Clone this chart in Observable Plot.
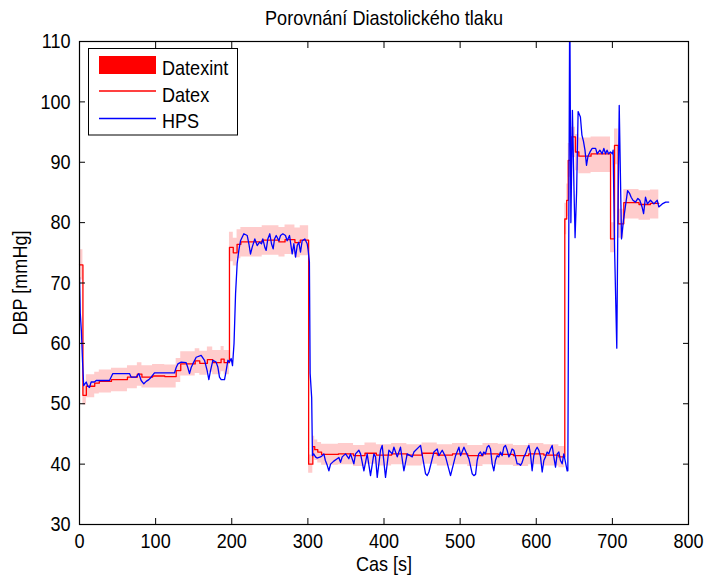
<!DOCTYPE html>
<html><head><meta charset="utf-8">
<script src="https://cdn.jsdelivr.net/npm/d3@7"></script>
<script src="https://cdn.jsdelivr.net/npm/@observablehq/plot@0.6"></script>
<style>
html,body{margin:0;padding:0;background:#fff;}
#chart{position:relative;width:708px;height:579px;}
</style></head><body><div id="chart"></div>
<script>
const title = "Porovnání Diastolického tlaku";
const xLabel = "Cas [s]";
const yLabel = "DBP [mmHg]";
const seriesNames = ["Datexint", "Datex", "HPS"];
const xTicks = [0, 100, 200, 300, 400, 500, 600, 700, 800];
const yTicks = [30, 40, 50, 60, 70, 80, 90, 100, 110];

// Datex (step line) and its interval band Datexint
const datexT = [0, 4.5, 9, 20, 26, 42, 63, 76, 82, 96, 112, 127, 133, 152, 158, 168, 175, 186, 190, 197, 202, 207, 212, 240, 262, 270, 283, 290, 301, 306.5, 309, 313, 318, 340, 360, 375, 390, 410, 430, 450, 470, 490, 510, 530, 550, 570, 590, 610, 629.7, 637.5, 640, 642, 646, 651.5, 656, 672, 697.6, 702.8, 707.6, 715, 735, 750, 761];
const datexV = [73, 51.4, 52.9, 53.4, 53.7, 54.0, 54.4, 54.9, 54.4, 54.6, 54.5, 55.5, 56.6, 57.1, 56.7, 57.3, 56.8, 57.4, 56.8, 75.9, 75.0, 76.4, 76.8, 77.1, 76.8, 77.2, 76.7, 77.1, 40.0, 42.9, 42.4, 42.0, 41.6, 41.7, 41.4, 41.8, 41.5, 41.7, 41.5, 41.8, 41.5, 41.7, 41.4, 41.7, 41.6, 41.4, 41.7, 41.5, 41.2, 80.6, 83.7, 90.3, 94.2, 91.7, 91.0, 91.4, 77.3, 92.8, 79.8, 83.3, 83.0, 83.2, 83.2];
const datexLo = [70.5, 49.8, 51.0, 51.6, 51.8, 52.0, 52.5, 52.9, 52.6, 52.6, 52.6, 53.5, 54.6, 55.0, 54.7, 55.2, 54.8, 55.3, 54.8, 73.5, 72.8, 74.0, 74.3, 74.6, 74.3, 74.7, 74.2, 74.5, 38.5, 41.0, 40.6, 40.2, 39.8, 39.9, 39.6, 40.0, 39.7, 39.9, 39.7, 40.0, 39.7, 39.9, 39.6, 39.9, 39.8, 39.6, 39.9, 39.7, 39.4, 78.0, 81.0, 87.5, 90.8, 88.6, 88.1, 88.3, 75.0, 89.6, 77.4, 80.6, 80.4, 80.6, 80.6];
const datexHi = [75.5, 53.2, 54.8, 55.2, 55.6, 55.9, 56.3, 56.8, 56.3, 56.5, 56.4, 57.5, 58.6, 59.1, 58.7, 59.4, 58.8, 59.5, 58.8, 78.4, 77.4, 78.8, 79.2, 79.5, 79.2, 79.6, 79.1, 79.5, 41.5, 44.6, 44.0, 43.6, 43.3, 43.4, 43.1, 43.5, 43.2, 43.4, 43.2, 43.5, 43.2, 43.4, 43.1, 43.4, 43.3, 43.1, 43.4, 43.2, 42.9, 83.2, 86.4, 93.1, 95.8, 94.6, 94.0, 94.2, 80.0, 95.5, 82.2, 85.5, 85.3, 85.4, 85.4];

// HPS
const hpsT = [0, 1, 2.5, 4, 5.5, 6.6, 8.8, 10.9, 13.1, 15.3, 19.7, 21.9, 39.4, 43.8, 65.7, 67.9, 74.4, 77.9, 81, 84.5, 87.6, 91.1, 94.1, 98.5, 124.8, 127, 129.2, 133.6, 140.1, 142.3, 144.5, 146.7, 148.9, 153.3, 159.8, 164.2, 167.7, 169.9, 172.1, 175.2, 179.5, 181.7, 183.9, 186.1, 190.5, 192.7, 194.9, 197, 199.2, 201, 203, 205, 207.1, 209.3, 211.5, 215.9, 220.3, 222.5, 224.6, 226.8, 230.3, 233.4, 236.5, 239.1, 240.8, 243.5, 245.2, 247.4, 250, 252.2, 254.4, 256.2, 258.4, 261.9, 264.1, 267.1, 270.6, 272.8, 275.9, 279.4, 281.6, 283.8, 286, 288.1, 290.3, 292.5, 296, 299.1, 300.4, 302, 303, 305, 306, 307.6, 310, 312, 316.6, 318.8, 321, 323, 325.4, 327.6, 329.8, 334, 338.5, 340.7, 342.9, 345.1, 349.5, 353.8, 356, 360.4, 362.6, 367, 369.2, 373.6, 377.9, 382.3, 386.7, 388.9, 391.1, 395.4, 397.6, 402, 406.4, 410.8, 413, 417.4, 421.7, 426.1, 430.5, 437.1, 439.3, 448, 454.6, 456.8, 459, 465.5, 469.9, 472.1, 476.5, 480.9, 487.4, 494, 498.4, 500.6, 505, 511.5, 515.9, 518, 520.3, 522.4, 524.5, 526.7, 528.9, 531.1, 533.3, 535.5, 537.7, 539.9, 542.1, 544.3, 546.4, 548.6, 550.8, 553, 555.2, 557.4, 559.6, 561.8, 564, 566.2, 568.3, 570.5, 572.7, 574.9, 577.1, 579.3, 581.5, 583.7, 585.9, 588.1, 590.3, 592.4, 594.6, 596.8, 599, 601.2, 603.4, 605.6, 607.8, 610, 612.2, 614.3, 616.5, 618.7, 620.9, 623.1, 625.3, 627.5, 629.7, 631.8, 634, 636.2, 638.4, 640.6, 641.5, 644, 645.5, 647.5, 649.5, 651, 653, 655, 658, 660, 662, 664, 666, 668, 671, 673.5, 678, 680, 683.6, 686.6, 688.8, 691, 693, 695, 697.6, 700, 701, 703, 705.8, 707.2, 709, 712, 714.6, 720, 722.8, 724.7, 727, 730.4, 733.5, 736, 739, 741, 743.5, 746, 750, 754.5, 759, 761, 765.5, 770, 774];
const hpsV = [71, 65, 62, 57, 53, 53.2, 53.6, 52.9, 52.7, 53.6, 53.6, 53.85, 53.85, 55.0, 55.0, 54.4, 54.4, 55.0, 53.85, 53.3, 53.7, 54.0, 54.4, 55.1, 55.1, 56.0, 56.6, 56.9, 56.8, 56.0, 55.0, 56.0, 56.6, 57.7, 58.0, 57.2, 55.5, 54.0, 55.5, 57.2, 56.9, 56.1, 54.4, 54.0, 54.0, 55.5, 57.2, 56.9, 57.5, 56.3, 60, 68.2, 73.2, 75.4, 77.0, 78.15, 77.87, 76.5, 74.8, 75.9, 77.3, 76.2, 76.75, 76.5, 77.3, 75.9, 75.4, 77.3, 78.15, 76.5, 75.65, 77.3, 77.87, 77.0, 77.87, 78.15, 77.87, 77.0, 77.87, 74.8, 76.5, 74.3, 76.2, 76.75, 75.1, 77.0, 77.3, 76.5, 75.4, 73.5, 55, 51, 41.4, 41.7, 41.2, 41.0, 41.2, 41.4, 41.7, 40.6, 39.8, 38.9, 40.0, 40.5, 40.9, 41.1, 40.3, 41.2, 41.7, 40.9, 41.7, 40.05, 41.7, 42.3, 41.7, 38.9, 41.7, 38.1, 41.7, 41.2, 37.8, 42.3, 43.1, 37.8, 42.3, 41.7, 42.8, 41.2, 42.8, 38.9, 41.7, 41.2, 42.0, 43.1, 38.4, 38.1, 38.7, 42.0, 42.5, 41.4, 42.3, 41.2, 38.1, 41.4, 42.8, 41.4, 42.8, 40.9, 38.4, 38.1, 38.3, 40.6, 41.7, 42.0, 41.4, 42.0, 41.7, 42.8, 43.1, 42.5, 40.05, 38.9, 40.6, 41.4, 41.2, 42.0, 41.4, 42.8, 43.1, 42.3, 41.2, 41.7, 42.5, 42.3, 41.2, 40.05, 40.05, 39.8, 40.3, 41.2, 41.7, 42.5, 43.1, 41.7, 38.9, 41.4, 42.3, 42.8, 42.3, 41.2, 38.7, 40.6, 41.2, 42.0, 41.7, 42.5, 43.1, 41.2, 39.5, 41.7, 42.0, 40.6, 40.05, 41.7, 40.3, 38.9, 38.9, 118, 80, 98.6, 86, 77.5, 85, 98.4, 97.5, 94.5, 93.5, 92, 89.5, 91, 91.8, 92.3, 92.3, 91.4, 92, 91.4, 92.3, 91.4, 92, 91.4, 91.7, 91.4, 92, 75, 59.2, 80, 99.4, 77.3, 80.4, 85.3, 84.8, 84.2, 83.7, 83.4, 84, 83.7, 82.6, 81.5, 84.2, 83.1, 83.7, 83.1, 83.7, 82.6, 83.1, 83.4, 83.4];

const datex = datexT.map((t, i) => ({t, v: datexV[i], lo: datexLo[i], hi: datexHi[i]}));
const hps = hpsT.map((t, i) => ({t, v: hpsV[i]}));

const FONT = "'Liberation Sans', Arial, sans-serif";
const FS = 21;
const RED = "#ff0000", BLUE = "#0000ff", PINK = "#ffcccc";

const plot = Plot.plot({
  width: 708, height: 579,
  marginLeft: 79, marginRight: 20, marginTop: 41, marginBottom: 55,
  style: {fontFamily: FONT, fontSize: FS + "px", color: "#000", background: "#fff"},
  x: {domain: [0, 800]},
  y: {domain: [30, 110]},
  marks: [
    Plot.areaY(datex, {x: "t", y1: "lo", y2: "hi", curve: "step-after", fill: PINK}),
    Plot.lineY(datex, {x: "t", y: "v", curve: "step-after", stroke: RED, strokeWidth: 1.3}),
    Plot.lineY(hps, {x: "t", y: "v", stroke: BLUE, strokeWidth: 1.3, clip: true}),
    Plot.frame({stroke: "#000", strokeWidth: 1.2}),
    Plot.axisX(xTicks, {anchor: "bottom", tickSize: -6, tickPadding: 15, label: xLabel, labelAnchor: "center", labelOffset: 46, labelArrow: "none"}),
    Plot.axisX(xTicks, {anchor: "top", tickSize: -6, tickFormat: () => "", label: null}),
    Plot.axisY(yTicks, {anchor: "left", tickSize: -6, tickPadding: 15, label: yLabel, labelAnchor: "center", labelOffset: 67, labelArrow: "none"}),
    Plot.axisY(yTicks, {anchor: "right", tickSize: -6, tickFormat: () => "", label: null}),
    Plot.text([title], {frameAnchor: "top", dy: -23, lineAnchor: "middle", fontSize: FS})
  ]
});

// Legend
const svg = d3.select(plot);
const lg = svg.append("g").attr("font-family", FONT).attr("font-size", FS).attr("text-anchor", "start");
lg.append("rect").attr("x", 88.5).attr("y", 48.5).attr("width", 149).attr("height", 86.5)
  .attr("fill", "#fff").attr("stroke", "#000").attr("stroke-width", 1);
lg.append("rect").attr("x", 99).attr("y", 56).attr("width", 57).attr("height", 18).attr("fill", RED);
lg.append("line").attr("x1", 99).attr("x2", 156).attr("y1", 91).attr("y2", 91).attr("stroke", RED).attr("stroke-width", 1.3);
lg.append("line").attr("x1", 99).attr("x2", 156).attr("y1", 118.5).attr("y2", 118.5).attr("stroke", BLUE).attr("stroke-width", 1.3);
const ys = [67.5, 95, 120.5];
seriesNames.forEach((name, i) => {
  lg.append("text").attr("x", 162).attr("y", ys[i]).attr("dy", "0.35em").attr("fill", "#000").text(name);
});

document.getElementById("chart").appendChild(plot);

// Narrow, tall glyphs like the original figure font
plot.querySelectorAll("text").forEach(el => {
  const w = el.getComputedTextLength();
  if (w > 0) {
    el.setAttribute("textLength", (w * 0.86).toFixed(1));
    el.setAttribute("lengthAdjust", "spacingAndGlyphs");
  }
});
</script></body></html>
